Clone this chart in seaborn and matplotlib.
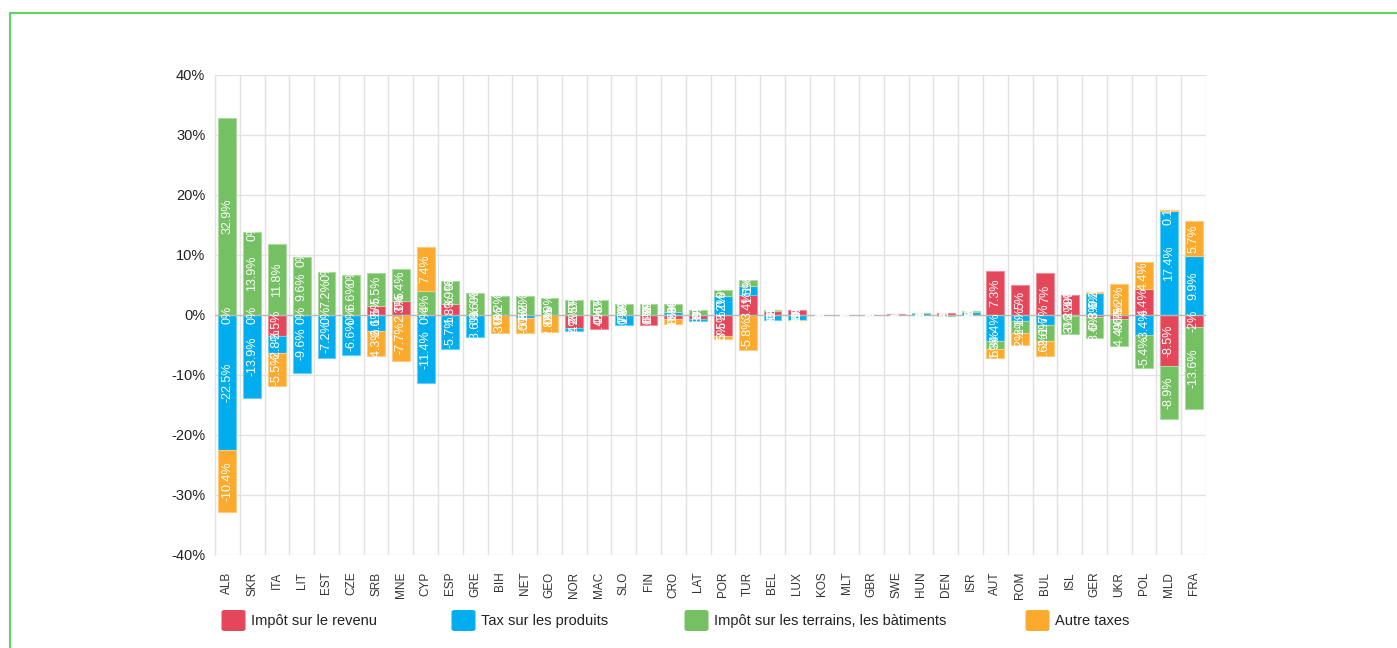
import numpy as np
import pandas as pd
import matplotlib.pyplot as plt
import matplotlib.patches as mpatches
import seaborn as sns

## data, one value per country and per tax type (in %)
countries = ["ALB", "SKR", "ITA", "LIT", "EST", "CZE", "SRB", "MNE", "CYP", "ESP",
             "GRE", "BIH", "NET", "GEO", "NOR", "MAC", "SLO", "FIN", "CRO", "LAT",
             "POR", "TUR", "BEL", "LUX", "KOS", "MLT", "GBR", "SWE", "HUN", "DEN",
             "ISR", "AUT", "ROM", "BUL", "ISL", "GER", "UKR", "POL", "MLD", "FRA"]

revenu = [0, 0, -3.5, 0, 0, 0, 1.5, 2.3, 0, 1.8,
          0, 0, 0, 0, -2.2, -2.4, 0, -1.6, -0.7, -0.7,
          -3.5, 3.4, 0.6, 0.9, 0, 0, 0, 0.1, 0, 0.3,
          0, 7.3, 5, 7, 3.3, -0.3, -0.7, 4.4, -8.5, -2]

produits = [-22.5, -13.9, -2.8, -9.6, -7.2, -6.6, -2.6, 0, -11.4, -5.7,
            -3.6, 0, -0.5, 0, -0.4, 0, -1.7, 0, 0.5, -0.3,
            3.2, 1.5, -0.9, -0.8, 0, 0, 0, 0, 0.3, 0,
            0.5, -4.4, -1, -1.7, -0.2, 3.6, 0, -3.4, 17.4, 9.9]

terrains = [32.9, 13.9, 11.8, 9.6, 7.2, 6.6, 5.5, 5.4, 4, 3.9,
            3.6, 3.2, 3.2, 2.9, 2.5, 2.5, 1.8, 1.8, 1.3, 0.9,
            0.9, 1, 0.3, 0, 0, 0, 0, 0, 0.1, -0.2,
            0.1, -1.3, -2, -2.6, -3, -3.6, -4.4, -5.4, -8.9, -13.6]

autres = [-10.4, 0, -5.5, 0, 0, 0, -4.3, -7.7, 7.4, 0,
          0, -3, -2.5, -2.8, 0, 0, 0, 0, -0.8, 0,
          -0.5, -5.8, 0, -0.1, 0, 0, 0, 0, 0, 0,
          0, -1.5, -2, -2.6, 0, 0.2, 5.2, 4.4, 0.1, 5.7]

series_names = ["Impôt sur le revenu", "Tax sur les produits",
                "Impôt sur les terrains, les bàtiments", "Autre taxes"]
series_values = [revenu, produits, terrains, autres]
series_colors = ["#E4465A", "#00AEEF", "#74C062", "#FBAA2D"]
edge_colors = ["#EE8C99", "#66CEF5", "#ABD9A0", "#FCCB80"]

yticks = [-40, -30, -20, -10, 0, 10, 20, 30, 40]

## style - set_style resets the font so the family list goes after it
sns.set_style('white')
plt.rcParams['font.family'] = ['Liberation Sans', 'DejaVu Sans']

fig = plt.figure(figsize=(13.97, 6.48), dpi=100)
ax = fig.add_axes([215 / 1397, 93 / 648, 991 / 1397, 480 / 648])

# positive and negative values are stacked separately, like chart.js does
pos_bottom = np.zeros(len(countries))
neg_bottom = np.zeros(len(countries))

for name, values, color, edge in zip(series_names, series_values, series_colors, edge_colors):
    vals = np.array(values, dtype=float)
    bottom = np.where(vals < 0, neg_bottom, pos_bottom)
    df = pd.DataFrame({"country": countries, "value": vals})
    sns.barplot(data=df, x="country", y="value", order=countries, color=color,
                saturation=1, width=0.72, errorbar=None, bottom=bottom,
                edgecolor=edge, linewidth=0.8, ax=ax, zorder=2)
    # white label in the middle of every segment (zero ones too)
    for i, v in enumerate(vals):
        label = f"{v:g}%"
        ax.text(i, bottom[i] + v / 2, label, rotation=90, color="white",
                fontsize=9, ha="center", va="center", zorder=4)
    pos_bottom = pos_bottom + np.where(vals >= 0, vals, 0)
    neg_bottom = neg_bottom + np.where(vals < 0, vals, 0)

# zero height bars should not show their border
for p in ax.patches:
    if p.get_height() == 0:
        p.set_linewidth(0)

## axes, grid and ticks
ax.set_xlim(-0.5, len(countries) - 0.5)
ax.set_ylim(-40, 40)
ax.set_yticks(yticks)
ax.set_yticklabels([f"{t}%" for t in yticks])
ax.set_xlabel("")
ax.set_ylabel("")

for t in yticks:
    ax.axhline(t, color="#B8B8B8" if t == 0 else "#E2E2E2", linewidth=1, zorder=1 if t != 0 else 3)
for b in np.arange(-0.5, len(countries), 1):
    ax.axvline(b, color="#E2E2E2", linewidth=1, zorder=1)

for side in ["top", "right", "bottom"]:
    ax.spines[side].set_visible(False)
ax.spines["left"].set_color("#E2E2E2")

ax.tick_params(axis="y", length=0, pad=7, labelsize=10.5, labelcolor="#222222")
ax.tick_params(axis="x", length=0, pad=12, labelsize=8.5, labelcolor="#333333", rotation=90)

## legend drawn by hand under the chart (pixel positions from the original)
legend_x = [223, 453, 686, 1027]
for x, name, color in zip(legend_x, series_names, series_colors):
    box = mpatches.FancyBboxPatch(((x + 2) / 1397, (648 - 631 + 2) / 648), 17 / 1397, 17 / 648,
                                  boxstyle="round,pad=0.002", transform=fig.transFigure,
                                  facecolor=color, edgecolor=color, linewidth=1)
    fig.patches.append(box)
    fig.text((x + 28) / 1397, (648 - 621) / 648, name, fontsize=10.5, color="#222222",
             ha="left", va="center")

# green frame around the card
frame = mpatches.Rectangle((10 / 1397, -0.1), 1.2, (648 - 13) / 648 + 0.1,
                           transform=fig.transFigure, fill=False,
                           edgecolor="#5CD660", linewidth=1.5)
fig.patches.append(frame)

plt.savefig("out.png", dpi=100)
plt.close()
